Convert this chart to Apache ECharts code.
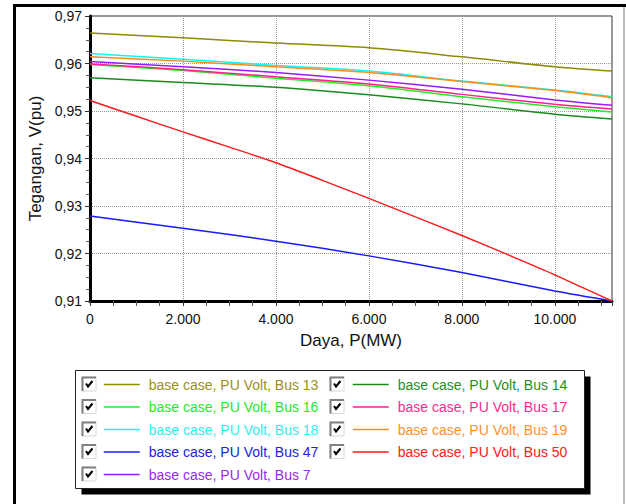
<!DOCTYPE html>
<html>
<head>
<meta charset="utf-8">
<script src="https://cdn.jsdelivr.net/npm/echarts@6/dist/echarts.min.js"></script>
<style>
  html, body { margin: 0; padding: 0; background: #fff; }
  #chart { width: 626px; height: 504px; }
</style>
</head>
<body>
<div id="chart"></div>
<script>
// daya P (MW) sample points
const powerX = [0, 2000, 4000, 6000, 8000, 10000, 11230];
const powerXBus50 = [0, 1000, 2000, 3000, 4000, 5000, 6000, 7000, 8000, 9000, 10000, 11230];

// tegangan V (pu)
const bus13 = [0.9664, 0.9654, 0.9643, 0.9633, 0.9614, 0.9593, 0.9584];
const bus14 = [0.9570, 0.9560, 0.9550, 0.9534, 0.9515, 0.9493, 0.9483];
const bus16 = [0.9598, 0.9585, 0.9569, 0.9553, 0.9530, 0.9509, 0.9498];
const bus17 = [0.9599, 0.9587, 0.9572, 0.9557, 0.9535, 0.9514, 0.9504];
const bus18 = [0.9621, 0.9609, 0.9596, 0.9584, 0.9563, 0.9544, 0.9530];
const bus19 = [0.9614, 0.9605, 0.9593, 0.9581, 0.9562, 0.9543, 0.9528];
const bus47 = [0.9279, 0.9253, 0.9226, 0.9195, 0.9160, 0.9121, 0.9100];
const bus50 = [0.9522, 0.9489, 0.9456, 0.9424, 0.9391, 0.9354, 0.9316, 0.9277, 0.9238, 0.9197, 0.9155, 0.9100];
const bus7 = [0.9604, 0.9593, 0.9581, 0.9565, 0.9546, 0.9523, 0.9512];

const FONT = "'Liberation Sans', Arial, sans-serif";

// name, x list, y list, line colour, legend text colour
const seriesDefs = [
  ["base case, PU Volt, Bus 13", powerX, bus13, "#8f8a00", "#9a9020"],
  ["base case, PU Volt, Bus 14", powerX, bus14, "#1b8c1b", "#1f8f1f"],
  ["base case, PU Volt, Bus 16", powerX, bus16, "#22f022", "#2ae62a"],
  ["base case, PU Volt, Bus 17", powerX, bus17, "#ff1f8f", "#ff2a8c"],
  ["base case, PU Volt, Bus 18", powerX, bus18, "#11f5f5", "#33eded"],
  ["base case, PU Volt, Bus 19", powerX, bus19, "#ff8a1a", "#ff9030"],
  ["base case, PU Volt, Bus 47", powerX, bus47, "#1a1aff", "#2222dd"],
  ["base case, PU Volt, Bus 50", powerXBus50, bus50, "#ff1a1a", "#ff2020"],
  ["base case, PU Volt, Bus 7", powerX, bus7, "#9a1aff", "#9a2aee"],
];

const legendLeftCol = [0, 2, 4, 6, 8];
const legendRightCol = [1, 3, 5, 7];

const series = seriesDefs.map(([name, xs, ys, color]) => ({
  name: name,
  type: "line",
  symbol: "none",
  smooth: 0.3,
  data: xs.map((x, i) => [x, ys[i]]),
  lineStyle: { width: 1.5, color: color },
  itemStyle: { color: color },
}));

function legendData(idx) {
  return idx.map((i) => ({
    name: seriesDefs[i][0],
    textStyle: { color: seriesDefs[i][4] },
  }));
}

const legendBase = {
  orient: "vertical",
  top: 376.5,
  padding: 0,
  z: 30,
  itemWidth: 36,
  itemHeight: 16,
  itemGap: 6.5,
  itemStyle: { opacity: 0 },
  lineStyle: { width: 1.5 },
  textStyle: { fontSize: 14, fontFamily: FONT, lineHeight: 16, padding: [0, 0, 0, 4] },
};

// checkbox decoration for each legend row
const rowTop = 377;
const rowPitch = 22.5;
function checkbox(x, y) {
  return [
    { type: "rect", shape: { x: x, y: y, width: 14, height: 14 },
      style: { fill: "#fff", stroke: "#d8d8d8", lineWidth: 1 }, z: 20 },
    { type: "polyline", shape: { points: [[x + 0.5, y + 14], [x + 0.5, y + 0.5], [x + 14, y + 0.5]] },
      style: { fill: null, stroke: "#808080", lineWidth: 2 }, z: 21 },
    { type: "polyline", shape: { points: [[x + 4, y + 6.5], [x + 6, y + 9.5], [x + 10.5, y + 4]] },
      style: { fill: null, stroke: "#000", lineWidth: 2 }, z: 22 },
  ];
}
const boxes = [];
legendLeftCol.forEach((_, r) => boxes.push(...checkbox(82, rowTop + r * rowPitch)));
legendRightCol.forEach((_, r) => boxes.push(...checkbox(330, rowTop + r * rowPitch)));

const chart = echarts.init(document.getElementById("chart"), null, { renderer: "svg" });

chart.setOption({
  backgroundColor: "#fff",
  animation: false,
  textStyle: { fontFamily: FONT },
  grid: { left: 90, top: 16, right: 14, bottom: 203, show: true, borderColor: "#333", borderWidth: 1 },
  xAxis: {
    type: "value",
    min: 0,
    max: 11230,
    interval: 2000,
    name: "Daya, P(MW)",
    nameLocation: "middle",
    nameGap: 31,
    nameTextStyle: { fontSize: 17, color: "#111", fontFamily: FONT },
    axisLine: { show: true, lineStyle: { color: "#000", width: 3 } },
    axisTick: { show: true, length: 5, lineStyle: { color: "#333" } },
    minorTick: { show: true, splitNumber: 4, length: 5, lineStyle: { color: "#555" } },
    axisLabel: {
      margin: 11,
      fontSize: 14,
      color: "#111",
      showMaxLabel: false,
      formatter: (v) => String(v).replace(/\B(?=(\d{3})+(?!\d))/g, "."),
    },
    splitLine: { show: true, lineStyle: { color: "#999", type: "dotted", width: 1 } },
  },
  yAxis: {
    type: "value",
    min: 0.91,
    max: 0.97,
    interval: 0.01,
    name: "Tegangan, V(pu)",
    nameLocation: "middle",
    nameGap: 43,
    nameTextStyle: { fontSize: 17, color: "#111", fontFamily: FONT },
    axisLine: { show: true, lineStyle: { color: "#000", width: 3 } },
    axisTick: { show: true, length: 5, lineStyle: { color: "#333" } },
    minorTick: { show: true, splitNumber: 4, length: 4, lineStyle: { color: "#555" } },
    axisLabel: {
      margin: 8,
      fontSize: 14,
      color: "#111",
      formatter: (v) => v.toFixed(2).replace(".", ","),
    },
    splitLine: { show: true, lineStyle: { color: "#999", type: "dotted", width: 1 } },
  },
  legend: [
    Object.assign({}, legendBase, { left: 103, data: legendData(legendLeftCol) }),
    Object.assign({}, legendBase, { left: 352, data: legendData(legendRightCol) }),
  ],
  graphic: [
    // outer frame
    { type: "line", shape: { x1: 13, y1: 5.5, x2: 626, y2: 5.5 }, style: { stroke: "#000", lineWidth: 3 }, z: 10 },
    { type: "line", shape: { x1: 14.5, y1: 5, x2: 14.5, y2: 504 }, style: { stroke: "#000", lineWidth: 3 }, z: 10 },
    { type: "line", shape: { x1: 624, y1: 7, x2: 624, y2: 504 }, style: { stroke: "#bdbdbd", lineWidth: 2 }, z: 10 },
    // legend panel with drop shadow
    { type: "rect", shape: { x: 81.5, y: 376.5, width: 509, height: 118 }, style: { fill: "#000" }, z: 5 },
    { type: "rect", shape: { x: 75.5, y: 370.5, width: 509, height: 118 }, style: { fill: "#fff", stroke: "#222", lineWidth: 1 }, z: 6 },
    ...boxes,
  ],
  series: series,
});
</script>
</body>
</html>
